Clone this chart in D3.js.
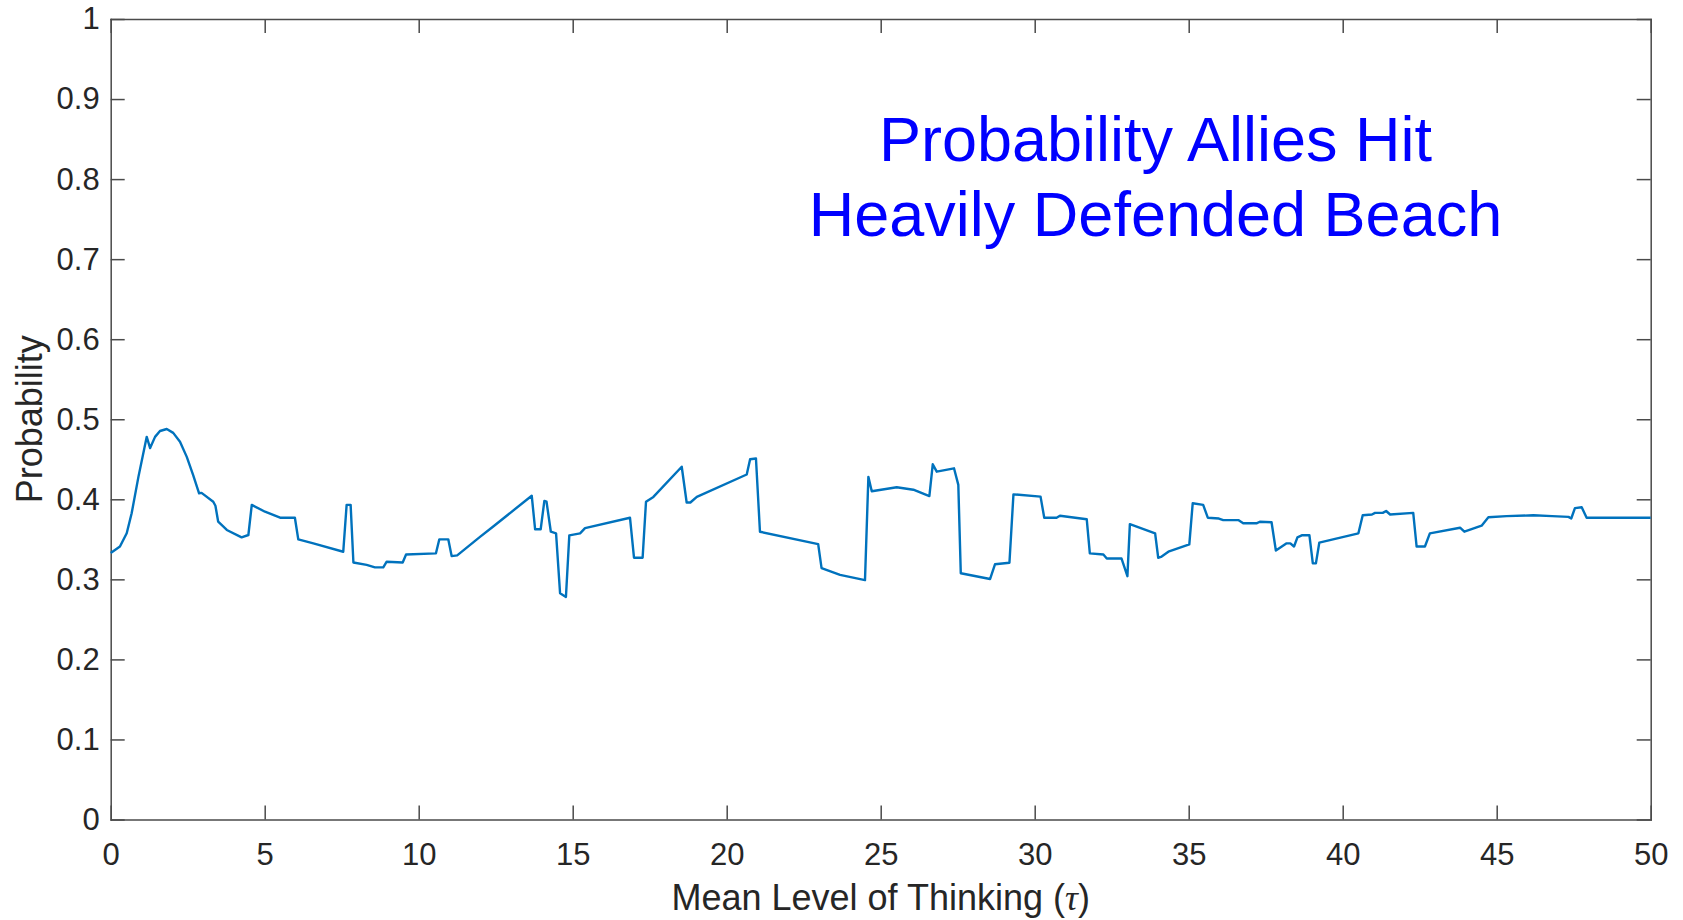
<!DOCTYPE html>
<html>
<head>
<meta charset="utf-8">
<script src="https://cdn.jsdelivr.net/npm/d3@7"></script>
<style>
  html, body { margin: 0; padding: 0; background: #fff; }
  svg { display: block; font-family: 'Liberation Sans', Arial, sans-serif; }
  .axis text { fill: #262626; font-size: 31px; }
  .axis path, .axis line { stroke: #4a4a4a; stroke-width: 1.5; }
</style>
</head>
<body>
<div id="chart"></div>
<script>
// Mean level of thinking (tau) sample points
const tauValues = [
  0, 0.3, 0.52, 0.68, 0.9, 1.17, 1.28, 1.44, 1.6, 1.82, 2.03, 2.25, 2.47, 2.68, 2.87, 2.95,
  3.33, 3.40, 3.49, 3.77, 4.25, 4.47, 4.58, 5.01, 5.5, 5.98, 6.09, 6.58, 7.55, 7.66, 7.79,
  7.88, 8.31, 8.58, 8.85, 8.96, 9.48, 9.59, 10.56, 10.67, 10.96, 11.07, 11.25, 11.99, 12.42,
  13.67, 13.78, 13.96, 14.08, 14.15, 14.29, 14.46, 14.59, 14.78, 14.89, 15.24, 15.4, 16.86,
  16.99, 17.27, 17.38, 17.62, 18.54, 18.70, 18.82, 19.03, 20.65, 20.76, 20.95, 21.08, 22.97,
  23.08, 23.68, 24.49, 24.60, 24.71, 25.52, 26.06, 26.58, 26.69, 26.82, 27.38, 27.52, 27.60,
  28.55, 28.71, 29.18, 29.31, 30.19, 30.31, 30.71, 30.82, 31.69, 31.79, 32.23, 32.34, 32.82,
  33.01, 33.09, 33.91, 34.01, 34.1, 34.34, 35.02, 35.13, 35.47, 35.62, 35.98, 36.12, 36.61,
  36.77, 37.2, 37.31, 37.69, 37.83, 38.18, 38.30, 38.42, 38.53, 38.67, 38.92, 39.03, 39.13,
  39.24, 40.51, 40.65, 40.95, 41.05, 41.30, 41.41, 41.54, 42.29, 42.40, 42.67, 42.83, 43.81,
  43.95, 44.51, 44.73, 45.32, 46.19, 46.8, 47.33, 47.42, 47.54, 47.76, 47.92, 50
];

// Probability allies hit the heavily defended beach
const probValues = [
  0.333, 0.341, 0.3575, 0.3825, 0.428, 0.478, 0.464, 0.478, 0.4853, 0.4878, 0.483, 0.472,
  0.453, 0.430, 0.4075, 0.408, 0.397, 0.392, 0.372, 0.3617, 0.3525, 0.3554, 0.393, 0.3845,
  0.377, 0.377, 0.350, 0.345, 0.3345, 0.393, 0.393, 0.321, 0.318, 0.315, 0.315, 0.322, 0.321,
  0.331, 0.3325, 0.350, 0.350, 0.329, 0.330, 0.353, 0.366, 0.4045, 0.3625, 0.3625, 0.398,
  0.397, 0.3595, 0.3575, 0.2826, 0.278, 0.355, 0.3575, 0.364, 0.377, 0.327, 0.327, 0.397,
  0.403, 0.4407, 0.396, 0.396, 0.403, 0.431, 0.450, 0.451, 0.3595, 0.344, 0.314, 0.3055,
  0.299, 0.428, 0.410, 0.415, 0.412, 0.404, 0.4437, 0.4345, 0.4387, 0.418, 0.3076, 0.3004,
  0.3188, 0.3208, 0.4062, 0.4033, 0.377, 0.377, 0.3795, 0.375, 0.3325, 0.331, 0.326, 0.326,
  0.304, 0.369, 0.3575, 0.327, 0.328, 0.3345, 0.3437, 0.395, 0.393, 0.377, 0.376, 0.374,
  0.374, 0.370, 0.370, 0.372, 0.3713, 0.336, 0.345, 0.345, 0.341, 0.3525, 0.355, 0.355,
  0.320, 0.320, 0.3458, 0.3575, 0.380, 0.381, 0.383, 0.383, 0.3854, 0.381, 0.383, 0.341,
  0.341, 0.3575, 0.3645, 0.3595, 0.367, 0.3775, 0.379, 0.380, 0.379, 0.378, 0.376, 0.389,
  0.390, 0.377, 0.377
];

const xTicks = d3.range(0, 51, 5);
const yTicks = [0, 0.1, 0.2, 0.3, 0.4, 0.5, 0.6, 0.7, 0.8, 0.9, 1];
const titleLines = ['Probability Allies Hit', 'Heavily Defended Beach'];

const width = 1683, height = 920;
const margin = { top: 19, right: 32.3, bottom: 100.5, left: 110.7 };
const w = width - margin.left - margin.right;
const h = height - margin.top - margin.bottom;

const svg = d3.select('#chart').append('svg')
  .attr('width', width).attr('height', height);
const g = svg.append('g').attr('transform', `translate(${margin.left},${margin.top})`);

const x = d3.scaleLinear().domain([0, 50]).range([0, w]);
const y = d3.scaleLinear().domain([0, 1]).range([h, 0]);
const tick = 14;

// axes: ticks point inward, box on all four sides
g.append('g').attr('class', 'axis')
  .attr('transform', `translate(0,${h})`)
  .call(d3.axisBottom(x).tickValues(xTicks).tickSizeInner(-tick).tickSizeOuter(0).tickPadding(23.5).tickFormat(d3.format('d')));

g.append('g').attr('class', 'axis')
  .call(d3.axisLeft(y).tickValues(yTicks).tickSizeInner(-tick).tickSizeOuter(0).tickPadding(11).tickFormat(d => d === 0 || d === 1 ? String(d) : d3.format('.1f')(d)));

g.append('g').attr('class', 'axis')
  .call(d3.axisTop(x).tickValues(xTicks).tickSizeInner(-tick).tickSizeOuter(0).tickFormat(''));

g.append('g').attr('class', 'axis')
  .attr('transform', `translate(${w},0)`)
  .call(d3.axisRight(y).tickValues(yTicks).tickSizeInner(-tick).tickSizeOuter(0).tickFormat(''));

g.selectAll('.axis .domain').attr('stroke-linecap', 'square');

// the curve
const data = tauValues.map((t, i) => ({ t, p: probValues[i] }));
const line = d3.line().x(d => x(d.t)).y(d => y(d.p));

g.append('path')
  .datum(data)
  .attr('fill', 'none')
  .attr('stroke', '#0072BD')
  .attr('stroke-width', 2.4)
  .attr('stroke-linejoin', 'round')
  .attr('d', line);

// annotation title inside the axes
const title = g.append('text')
  .attr('x', 1155.5 - margin.left)
  .attr('text-anchor', 'middle')
  .attr('fill', '#0000FF')
  .style('font-size', '63px');
titleLines.forEach((t, i) => {
  title.append('tspan')
    .attr('x', 1155.5 - margin.left)
    .attr('y', 161 - margin.top + i * 75)
    .text(t);
});

// axis labels
const xl = svg.append('text')
  .attr('x', margin.left + w / 2)
  .attr('y', 910)
  .attr('text-anchor', 'middle')
  .attr('fill', '#262626')
  .style('font-size', '36px')
  .text('Mean Level of Thinking (');
xl.append('tspan')
  .style('font-family', "'Liberation Serif', 'Times New Roman', serif")
  .style('font-style', 'italic')
  .text('τ');
xl.append('tspan').text(')');

svg.append('text')
  .attr('transform', `translate(42,${margin.top + h / 2}) rotate(-90)`)
  .attr('text-anchor', 'middle')
  .attr('fill', '#262626')
  .style('font-size', '36px')
  .text('Probability');
</script>
</body>
</html>
